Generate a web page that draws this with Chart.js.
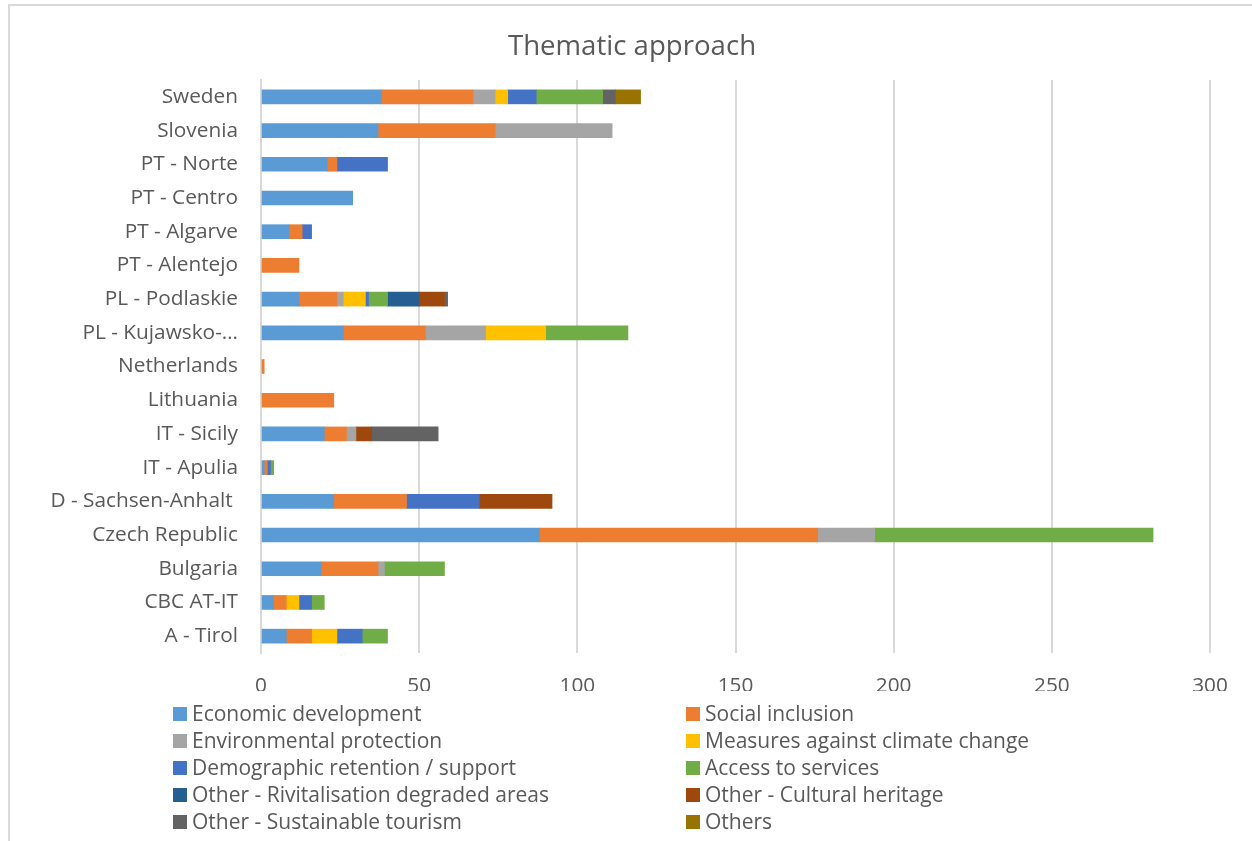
<!DOCTYPE html>
<html>
<head>
<meta charset="utf-8">
<title>Thematic approach</title>
<script src="https://cdn.jsdelivr.net/npm/chart.js@4/dist/chart.umd.min.js"></script>
<style>
  html, body { margin: 0; padding: 0; background: #ffffff; }
  #wrap { width: 1252px; height: 841px; position: relative; }
</style>
</head>
<body>
<div id="wrap"><canvas id="chart" width="1252" height="841"></canvas></div>
<script>
// Regions, listed bottom to top as on the axis
const regions = [
  'A - Tirol', 'CBC AT-IT', 'Bulgaria', 'Czech Republic', 'D - Sachsen-Anhalt ',
  'IT - Apulia', 'IT - Sicily', 'Lithuania', 'Netherlands', 'PL - Kujawsko-…',
  'PL - Podlaskie', 'PT - Alentejo', 'PT - Algarve', 'PT - Centro', 'PT - Norte',
  'Slovenia', 'Sweden'
];

const themeNames = [
  'Economic development', 'Social inclusion', 'Environmental protection',
  'Measures against climate change', 'Demographic retention / support',
  'Access to services', 'Other - Rivitalisation degraded areas',
  'Other - Cultural heritage', 'Other - Sustainable tourism', 'Others'
];

// Counts per theme, one value per region (same order as regions)
const economicDevelopment    = [8, 4, 19, 88, 23, 1, 20, 0, 0, 26, 12, 0, 9, 29, 21, 37, 38];
const socialInclusion        = [8, 4, 18, 88, 23, 1, 7, 23, 1, 26, 12, 12, 4, 0, 3, 37, 29];
const environmentalProtection= [0, 0, 2, 18, 0, 0, 3, 0, 0, 19, 2, 0, 0, 0, 0, 37, 7];
const climateMeasures        = [8, 4, 0, 0, 0, 0, 0, 0, 0, 19, 7, 0, 0, 0, 0, 0, 4];
const demographicRetention   = [8, 4, 0, 0, 23, 1, 0, 0, 0, 0, 1, 0, 3, 0, 16, 0, 9];
const accessToServices       = [8, 4, 19, 88, 0, 1, 0, 0, 0, 26, 6, 0, 0, 0, 0, 0, 21];
const rivitalisation         = [0, 0, 0, 0, 0, 0, 0, 0, 0, 0, 10, 0, 0, 0, 0, 0, 0];
const culturalHeritage       = [0, 0, 0, 0, 23, 0, 5, 0, 0, 0, 8, 0, 0, 0, 0, 0, 0];
const sustainableTourism     = [0, 0, 0, 0, 0, 0, 21, 0, 0, 0, 1, 0, 0, 0, 0, 0, 4];
const others                 = [0, 0, 0, 0, 0, 0, 0, 0, 0, 0, 0, 0, 0, 0, 0, 0, 8];

const xTicks = [0, 50, 100, 150, 200, 250, 300];

const seriesValues = [
  economicDevelopment, socialInclusion, environmentalProtection, climateMeasures,
  demographicRetention, accessToServices, rivitalisation, culturalHeritage,
  sustainableTourism, others
];

const palette = [
  '#5B9BD5', '#ED7D31', '#A5A5A5', '#FFC000', '#4472C4',
  '#70AD47', '#255E91', '#9E480E', '#636363', '#997300'
];

const FONT = "'Open Sans', 'DejaVu Sans', sans-serif";
const TEXT = '#595959';
const GRID = '#d9d9d9';

// Outer frame of the chart
const framePlugin = {
  id: 'frame',
  beforeDraw(chart) {
    const ctx = chart.ctx;
    ctx.save();
    ctx.fillStyle = '#ffffff';
    ctx.fillRect(0, 0, chart.width, chart.height);
    ctx.strokeStyle = GRID;
    ctx.lineWidth = 2;
    ctx.strokeRect(9, 5, chart.width + 20, chart.height + 20);
    ctx.restore();
  }
};

// Centre the title on the whole frame rather than the padded layout box
const titleSpan = {
  id: 'titleSpan',
  afterLayout(chart) {
    if (chart.titleBlock) {
      chart.titleBlock.left = 9;
      chart.titleBlock.right = chart.width + 3;
    }
  }
};

// Two-column legend below the axis
const gridLegend = {
  id: 'gridLegend',
  afterDraw(chart) {
    const ctx = chart.ctx;
    const colX = [173, 686];
    const top = 714, rowH = 27, box = 14;
    ctx.save();
    ctx.font = '21px ' + FONT;
    ctx.textBaseline = 'middle';
    ctx.textAlign = 'left';
    chart.data.datasets.forEach((ds, i) => {
      const x = colX[i % 2];
      const y = top + Math.floor(i / 2) * rowH;
      ctx.fillStyle = ds.backgroundColor;
      ctx.fillRect(x, y - box / 2, box, box);
      ctx.fillStyle = TEXT;
      ctx.fillText(ds.label, x + box + 5, y + 1);
    });
    ctx.restore();
  }
};

new Chart(document.getElementById('chart'), {
  type: 'bar',
  data: {
    labels: regions,
    datasets: themeNames.map((name, i) => ({
      label: name,
      // empty segments are left out so they leave no sliver
      data: seriesValues[i].map(v => (v === 0 ? null : v)),
      backgroundColor: palette[i],
      borderWidth: 0,
      barThickness: 14
    }))
  },
  options: {
    indexAxis: 'y',
    responsive: false,
    animation: false,
    devicePixelRatio: 1,
    layout: { padding: { left: 12, right: 42, top: 0, bottom: 150 } },
    plugins: {
      legend: { display: false },
      tooltip: { enabled: false },
      title: {
        display: true,
        text: 'Thematic approach',
        color: TEXT,
        font: { family: FONT, size: 27.6, weight: 'normal' },
        padding: { top: 31, bottom: 15.9 }
      }
    },
    scales: {
      x: {
        stacked: true,
        min: 0,
        max: 300,
        afterBuildTicks(scale) { scale.ticks = xTicks.map(v => ({ value: v })); },
        afterFit(scale) { scale.height = 38; },
        grid: { color: GRID, lineWidth: 2, drawTicks: false },
        border: { display: false },
        ticks: {
          color: TEXT,
          font: { family: FONT, size: 20.8 },
          padding: 21,
          maxRotation: 0
        }
      },
      y: {
        stacked: true,
        reverse: true,
        afterFit(scale) { scale.width = 249; },
        grid: { display: false, drawTicks: false },
        border: { display: true, color: GRID, width: 2 },
        ticks: {
          color: TEXT,
          font: { family: FONT, size: 20.8 },
          padding: 23,
          autoSkip: false
        }
      }
    }
  },
  plugins: [framePlugin, titleSpan, gridLegend]
});
</script>
</body>
</html>
